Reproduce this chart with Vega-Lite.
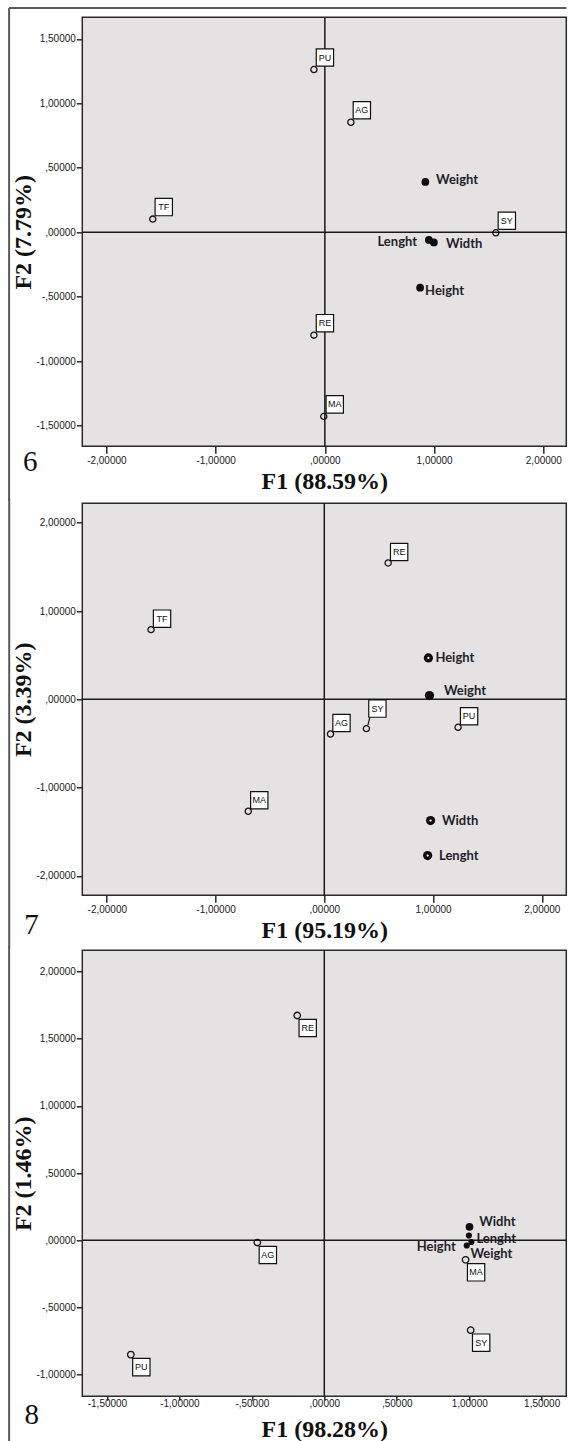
{
  "$schema": "https://vega.github.io/schema/vega-lite/v6.json",
  "background": "white",
  "padding": {"left": 7.3, "top": 5.3, "right": 0, "bottom": 0},
  "spacing": -8.5,
  "datasets": {
    "p6obj": [
      {"name": "PU", "x": -0.10, "y": 1.262},
      {"name": "AG", "x": 0.238, "y": 0.853},
      {"name": "TF", "x": -1.575, "y": 0.102},
      {"name": "SY", "x": 1.565, "y": -0.004},
      {"name": "RE", "x": -0.10, "y": -0.798},
      {"name": "MA", "x": -0.01, "y": -1.428}
    ],
    "p6var": [
      {"name": "Weight", "x": 0.920, "y": 0.390},
      {"name": "Lenght", "x": 0.952, "y": -0.060},
      {"name": "Width", "x": 0.998, "y": -0.079},
      {"name": "Height", "x": 0.872, "y": -0.430}
    ],
    "p7obj": [
      {"name": "RE", "x": 0.587, "y": 1.544},
      {"name": "TF", "x": -1.593, "y": 0.789},
      {"name": "AG", "x": 0.057, "y": -0.393},
      {"name": "SY", "x": 0.387, "y": -0.332},
      {"name": "PU", "x": 1.230, "y": -0.317},
      {"name": "MA", "x": -0.699, "y": -1.268}
    ],
    "p7var": [
      {"name": "Height", "x": 0.957, "y": 0.468},
      {"name": "Weight", "x": 0.967, "y": 0.042},
      {"name": "Width", "x": 0.977, "y": -1.374},
      {"name": "Lenght", "x": 0.950, "y": -1.770}
    ],
    "p8obj": [
      {"name": "RE", "x": -0.187, "y": 1.672},
      {"name": "AG", "x": -0.462, "y": -0.017},
      {"name": "MA", "x": 0.975, "y": -0.146},
      {"name": "SY", "x": 1.010, "y": -0.669},
      {"name": "PU", "x": -1.335, "y": -0.851}
    ],
    "p8var": [
      {"name": "Widht", "x": 1.002, "y": 0.100},
      {"name": "Lenght", "x": 0.998, "y": 0.035},
      {"name": "Height", "x": 0.983, "y": -0.039},
      {"name": "Weight", "x": 1.015, "y": -0.013}
    ]
  },
  "config": {
    "view": {"stroke": "#2b2b2b", "strokeWidth": 1.5, "fill": "#e4e2e3"},
    "axis": {
      "domain": false, "grid": false, "ticks": true,
      "tickColor": "#2b2b2b", "tickWidth": 1.5,
      "labelFont": "Liberation Sans", "labelFontSize": 10, "labelColor": "#1a1a1a",
      "labelOverlap": false, "labelFlush": false,
      "titleFont": "Liberation Serif", "titleFontWeight": "bold", "titleFontSize": 24, "titleColor": "#111111",
      "labelExpr": "(datum.value < 0 ? '-' : '') + replace(abs(datum.value) < 1 ? substring(format(abs(datum.value), '.5f'), 1) : format(abs(datum.value), '.5f'), '.', ',')"
    },
    "axisX": {"tickSize": 7, "labelPadding": 2, "titlePadding": 4},
    "axisY": {"tickSize": 6, "labelPadding": 1, "titlePadding": 0}
  },
  "vconcat": [
    {
      "width": 484, "height": 429,
      "layer": [
        {"data": {"values": [{}]}, "mark": {"type": "rule", "color": "#5a5a5a", "strokeWidth": 2},
         "encoding": {"x": {"datum": -2.89, "type": "quantitative"}, "y": {"datum": 1.74, "type": "quantitative"}, "y2": {"datum": -2.081}}},
        {"data": {"values": [{}]}, "mark": {"type": "rule", "color": "#5a5a5a", "strokeWidth": 2},
         "encoding": {"x": {"datum": -2.89, "type": "quantitative"}, "x2": {"datum": 2.21}, "y": {"datum": 1.74, "type": "quantitative"}}},
        {"data": {"values": [{}]}, "mark": {"type": "rule", "color": "#1a1a1a", "strokeWidth": 1.5},
         "encoding": {"x": {"datum": 0, "type": "quantitative"}}},
        {"data": {"values": [{}]}, "mark": {"type": "rule", "color": "#1a1a1a", "strokeWidth": 1.5},
         "encoding": {"y": {"datum": 0, "type": "quantitative"}}},
        {"data": {"name": "p6obj"},
         "mark": {"type": "point", "shape": "square", "size": 300, "filled": true, "fill": "white", "stroke": "#111", "strokeWidth": 1.2, "opacity": 1, "xOffset": 11, "yOffset": -12},
         "encoding": {
           "x": {"field": "x", "type": "quantitative", "scale": {"domain": [-2.22, 2.21], "nice": false, "zero": false}, "axis": {"values": [-2, -1, 0, 1, 2], "title": "F1 (88.59%)"}},
           "y": {"field": "y", "type": "quantitative", "scale": {"domain": [-1.66, 1.667], "nice": false, "zero": false}, "axis": {"values": [-1.5, -1, -0.5, 0, 0.5, 1, 1.5], "title": "F2 (7.79%)"}}
         }},
        {"data": {"name": "p6obj"},
         "mark": {"type": "text", "dx": 11, "dy": -12, "align": "center", "baseline": "middle", "font": "Liberation Sans", "fontSize": 9, "color": "#111"},
         "encoding": {"x": {"field": "x", "type": "quantitative"}, "y": {"field": "y", "type": "quantitative"}, "text": {"field": "name"}}},
        {"data": {"name": "p6obj"},
         "mark": {"type": "point", "shape": "circle", "filled": false, "stroke": "#111", "strokeWidth": 1.3, "size": 38, "opacity": 1},
         "encoding": {"x": {"field": "x", "type": "quantitative"}, "y": {"field": "y", "type": "quantitative"}}},
        {"data": {"name": "p6var"},
         "mark": {"type": "point", "shape": "circle", "filled": true, "color": "#0d0d0d", "size": 60, "opacity": 1},
         "encoding": {"x": {"field": "x", "type": "quantitative"}, "y": {"field": "y", "type": "quantitative"}}},
        {"data": {"name": "p6var"}, "transform": [{"filter": "datum.name === 'Weight'"}],
         "mark": {"type": "text", "align": "left", "baseline": "middle", "dx": 10.7, "dy": -2.4, "font": "Lato", "fontWeight": "bold", "fontSize": 13, "color": "#1e1e28"},
         "encoding": {"x": {"field": "x", "type": "quantitative"}, "y": {"field": "y", "type": "quantitative"}, "text": {"field": "name"}}},
        {"data": {"name": "p6var"}, "transform": [{"filter": "datum.name === 'Lenght'"}],
         "mark": {"type": "text", "align": "right", "baseline": "middle", "dx": -11.8, "dy": 2, "font": "Lato", "fontWeight": "bold", "fontSize": 13, "color": "#1e1e28"},
         "encoding": {"x": {"field": "x", "type": "quantitative"}, "y": {"field": "y", "type": "quantitative"}, "text": {"field": "name"}}},
        {"data": {"name": "p6var"}, "transform": [{"filter": "datum.name === 'Width'"}],
         "mark": {"type": "text", "align": "left", "baseline": "middle", "dx": 12, "dy": 1.3, "font": "Lato", "fontWeight": "bold", "fontSize": 13, "color": "#1e1e28"},
         "encoding": {"x": {"field": "x", "type": "quantitative"}, "y": {"field": "y", "type": "quantitative"}, "text": {"field": "name"}}},
        {"data": {"name": "p6var"}, "transform": [{"filter": "datum.name === 'Height'"}],
         "mark": {"type": "text", "align": "left", "baseline": "middle", "dx": 5, "dy": 3.4, "font": "Lato", "fontWeight": "bold", "fontSize": 13, "color": "#1e1e28"},
         "encoding": {"x": {"field": "x", "type": "quantitative"}, "y": {"field": "y", "type": "quantitative"}, "text": {"field": "name"}}},
        {"data": {"values": [{}]},
         "mark": {"type": "text", "align": "center", "baseline": "middle", "font": "Liberation Serif", "fontSize": 29, "color": "#111"},
         "encoding": {"x": {"datum": -2.696, "type": "quantitative"}, "y": {"datum": -1.784, "type": "quantitative"}, "text": {"value": "6"}}}
      ]
    },
    {
      "width": 484, "height": 392,
      "layer": [
        {"data": {"values": [{}]}, "mark": {"type": "rule", "color": "#5a5a5a", "strokeWidth": 2},
         "encoding": {"x": {"datum": -2.897, "type": "quantitative"}, "y": {"datum": 2.271, "type": "quantitative"}, "y2": {"datum": -2.815}}},
        {"data": {"values": [{}]}, "mark": {"type": "rule", "color": "#1a1a1a", "strokeWidth": 1.5},
         "encoding": {"x": {"datum": 0, "type": "quantitative"}}},
        {"data": {"values": [{}]}, "mark": {"type": "rule", "color": "#1a1a1a", "strokeWidth": 1.5},
         "encoding": {"y": {"datum": 0, "type": "quantitative"}}},
        {"data": {"name": "p7obj"}, "transform": [{"filter": "datum.name !== 'SY'"}],
         "mark": {"type": "point", "shape": "square", "size": 300, "filled": true, "fill": "white", "stroke": "#111", "strokeWidth": 1.2, "opacity": 1, "xOffset": 11, "yOffset": -11},
         "encoding": {
           "x": {"field": "x", "type": "quantitative", "scale": {"domain": [-2.225, 2.225], "nice": false, "zero": false}, "axis": {"values": [-2, -1, 0, 1, 2], "title": "F1 (95.19%)"}},
           "y": {"field": "y", "type": "quantitative", "scale": {"domain": [-2.22, 2.22], "nice": false, "zero": false}, "axis": {"values": [-2, -1, 0, 1, 2], "title": "F2 (3.39%)"}}
         }},
        {"data": {"name": "p7obj"}, "transform": [{"filter": "datum.name !== 'SY'"}],
         "mark": {"type": "text", "dx": 11, "dy": -11, "align": "center", "baseline": "middle", "font": "Liberation Sans", "fontSize": 9, "color": "#111"},
         "encoding": {"x": {"field": "x", "type": "quantitative"}, "y": {"field": "y", "type": "quantitative"}, "text": {"field": "name"}}},
        {"data": {"name": "p7obj"}, "transform": [{"filter": "datum.name === 'SY'"}],
         "mark": {"type": "rule", "color": "#111", "strokeWidth": 1.2, "xOffset": 1.5, "yOffset": -3.5, "x2Offset": 3.5, "y2Offset": -11.5},
         "encoding": {"x": {"field": "x", "type": "quantitative"}, "y": {"field": "y", "type": "quantitative"}, "x2": {"field": "x"}, "y2": {"field": "y"}}},
        {"data": {"name": "p7obj"}, "transform": [{"filter": "datum.name === 'SY'"}],
         "mark": {"type": "point", "shape": "square", "size": 300, "filled": true, "fill": "white", "stroke": "#111", "strokeWidth": 1.2, "opacity": 1, "xOffset": 11, "yOffset": -20},
         "encoding": {"x": {"field": "x", "type": "quantitative"}, "y": {"field": "y", "type": "quantitative"}}},
        {"data": {"name": "p7obj"}, "transform": [{"filter": "datum.name === 'SY'"}],
         "mark": {"type": "text", "dx": 11, "dy": -20, "align": "center", "baseline": "middle", "font": "Liberation Sans", "fontSize": 9, "color": "#111"},
         "encoding": {"x": {"field": "x", "type": "quantitative"}, "y": {"field": "y", "type": "quantitative"}, "text": {"field": "name"}}},
        {"data": {"name": "p7obj"},
         "mark": {"type": "point", "shape": "circle", "filled": false, "stroke": "#111", "strokeWidth": 1.3, "size": 38, "opacity": 1},
         "encoding": {"x": {"field": "x", "type": "quantitative"}, "y": {"field": "y", "type": "quantitative"}}},
        {"data": {"name": "p7var"},
         "mark": {"type": "point", "shape": "circle", "filled": true, "color": "#0d0d0d", "size": 85, "opacity": 1},
         "encoding": {"x": {"field": "x", "type": "quantitative"}, "y": {"field": "y", "type": "quantitative"}}},
        {"data": {"name": "p7var"}, "transform": [{"filter": "datum.name !== 'Weight'"}],
         "mark": {"type": "point", "shape": "circle", "filled": true, "color": "#ffffff", "size": 5, "opacity": 1},
         "encoding": {"x": {"field": "x", "type": "quantitative"}, "y": {"field": "y", "type": "quantitative"}}},
        {"data": {"name": "p7var"}, "transform": [{"filter": "datum.name === 'Height'"}],
         "mark": {"type": "text", "align": "left", "baseline": "middle", "dx": 7, "dy": 0, "font": "Lato", "fontWeight": "bold", "fontSize": 13, "color": "#1e1e28"},
         "encoding": {"x": {"field": "x", "type": "quantitative"}, "y": {"field": "y", "type": "quantitative"}, "text": {"field": "name"}}},
        {"data": {"name": "p7var"}, "transform": [{"filter": "datum.name === 'Weight'"}],
         "mark": {"type": "text", "align": "left", "baseline": "middle", "dx": 14.5, "dy": -4.3, "font": "Lato", "fontWeight": "bold", "fontSize": 13, "color": "#1e1e28"},
         "encoding": {"x": {"field": "x", "type": "quantitative"}, "y": {"field": "y", "type": "quantitative"}, "text": {"field": "name"}}},
        {"data": {"name": "p7var"}, "transform": [{"filter": "datum.name === 'Width' || datum.name === 'Lenght'"}],
         "mark": {"type": "text", "align": "left", "baseline": "middle", "dx": 11.4, "dy": 0, "font": "Lato", "fontWeight": "bold", "fontSize": 13, "color": "#1e1e28"},
         "encoding": {"x": {"field": "x", "type": "quantitative"}, "y": {"field": "y", "type": "quantitative"}, "text": {"field": "name"}}},
        {"data": {"values": [{}]},
         "mark": {"type": "text", "align": "center", "baseline": "middle", "font": "Liberation Serif", "fontSize": 29, "color": "#111"},
         "encoding": {"x": {"datum": -2.693, "type": "quantitative"}, "y": {"datum": -2.56, "type": "quantitative"}, "text": {"value": "7"}}}
      ]
    },
    {
      "width": 484, "height": 446,
      "layer": [
        {"data": {"values": [{}]}, "mark": {"type": "rule", "color": "#5a5a5a", "strokeWidth": 2},
         "encoding": {"x": {"datum": -2.175, "type": "quantitative"}, "y": {"datum": 2.19, "type": "quantitative"}, "y2": {"datum": -1.496}}},
        {"data": {"values": [{}]}, "mark": {"type": "rule", "color": "#1a1a1a", "strokeWidth": 1.5},
         "encoding": {"x": {"datum": 0, "type": "quantitative"}}},
        {"data": {"values": [{}]}, "mark": {"type": "rule", "color": "#1a1a1a", "strokeWidth": 1.5},
         "encoding": {"y": {"datum": 0, "type": "quantitative"}}},
        {"data": {"name": "p8obj"},
         "mark": {"type": "point", "shape": "square", "size": 300, "filled": true, "fill": "white", "stroke": "#111", "strokeWidth": 1.2, "opacity": 1, "xOffset": 10.5, "yOffset": 12.5},
         "encoding": {
           "x": {"field": "x", "type": "quantitative", "scale": {"domain": [-1.67, 1.67], "nice": false, "zero": false}, "axis": {"values": [-1.5, -1, -0.5, 0, 0.5, 1, 1.5], "title": "F1 (98.28%)", "tickSize": 4, "labelPadding": -2, "titlePadding": 9}},
           "y": {"field": "y", "type": "quantitative", "scale": {"domain": [-1.161, 2.157], "nice": false, "zero": false}, "axis": {"values": [-1, -0.5, 0, 0.5, 1, 1.5, 2], "title": "F2 (1.46%)"}}
         }},
        {"data": {"name": "p8obj"},
         "mark": {"type": "text", "dx": 10.5, "dy": 12.5, "align": "center", "baseline": "middle", "font": "Liberation Sans", "fontSize": 9, "color": "#111"},
         "encoding": {"x": {"field": "x", "type": "quantitative"}, "y": {"field": "y", "type": "quantitative"}, "text": {"field": "name"}}},
        {"data": {"name": "p8obj"},
         "mark": {"type": "point", "shape": "circle", "filled": false, "stroke": "#111", "strokeWidth": 1.3, "size": 42, "opacity": 1},
         "encoding": {"x": {"field": "x", "type": "quantitative"}, "y": {"field": "y", "type": "quantitative"}}},
        {"data": {"name": "p8var"},
         "mark": {"type": "point", "shape": "circle", "filled": true, "color": "#0d0d0d", "size": 38, "opacity": 1},
         "encoding": {"x": {"field": "x", "type": "quantitative"}, "y": {"field": "y", "type": "quantitative"}}},
        {"data": {"name": "p8var"}, "transform": [{"filter": "datum.name === 'Widht'"}],
         "mark": {"type": "point", "shape": "circle", "filled": true, "color": "#0d0d0d", "size": 60, "opacity": 1},
         "encoding": {"x": {"field": "x", "type": "quantitative"}, "y": {"field": "y", "type": "quantitative"}}},
        {"data": {"name": "p8var"}, "transform": [{"filter": "datum.name === 'Widht'"}],
         "mark": {"type": "text", "align": "left", "baseline": "middle", "dx": 9.7, "dy": -5, "font": "Lato", "fontWeight": "bold", "fontSize": 13, "color": "#1e1e28"},
         "encoding": {"x": {"field": "x", "type": "quantitative"}, "y": {"field": "y", "type": "quantitative"}, "text": {"field": "name"}}},
        {"data": {"name": "p8var"}, "transform": [{"filter": "datum.name === 'Lenght'"}],
         "mark": {"type": "text", "align": "left", "baseline": "middle", "dx": 7.5, "dy": 3.7, "font": "Lato", "fontWeight": "bold", "fontSize": 13, "color": "#1e1e28"},
         "encoding": {"x": {"field": "x", "type": "quantitative"}, "y": {"field": "y", "type": "quantitative"}, "text": {"field": "name"}}},
        {"data": {"name": "p8var"}, "transform": [{"filter": "datum.name === 'Height'"}],
         "mark": {"type": "text", "align": "right", "baseline": "middle", "dx": -11, "dy": 2, "font": "Lato", "fontWeight": "bold", "fontSize": 13, "color": "#1e1e28"},
         "encoding": {"x": {"field": "x", "type": "quantitative"}, "y": {"field": "y", "type": "quantitative"}, "text": {"field": "name"}}},
        {"data": {"name": "p8var"}, "transform": [{"filter": "datum.name === 'Weight'"}],
         "mark": {"type": "text", "align": "left", "baseline": "middle", "dx": -1, "dy": 12, "font": "Lato", "fontWeight": "bold", "fontSize": 13, "color": "#1e1e28"},
         "encoding": {"x": {"field": "x", "type": "quantitative"}, "y": {"field": "y", "type": "quantitative"}, "text": {"field": "name"}}},
        {"data": {"values": [{}]},
         "mark": {"type": "text", "align": "center", "baseline": "middle", "font": "Liberation Serif", "fontSize": 29, "color": "#111"},
         "encoding": {"x": {"datum": -2.018, "type": "quantitative"}, "y": {"datum": -1.299, "type": "quantitative"}, "text": {"value": "8"}}}
      ]
    }
  ]
}
